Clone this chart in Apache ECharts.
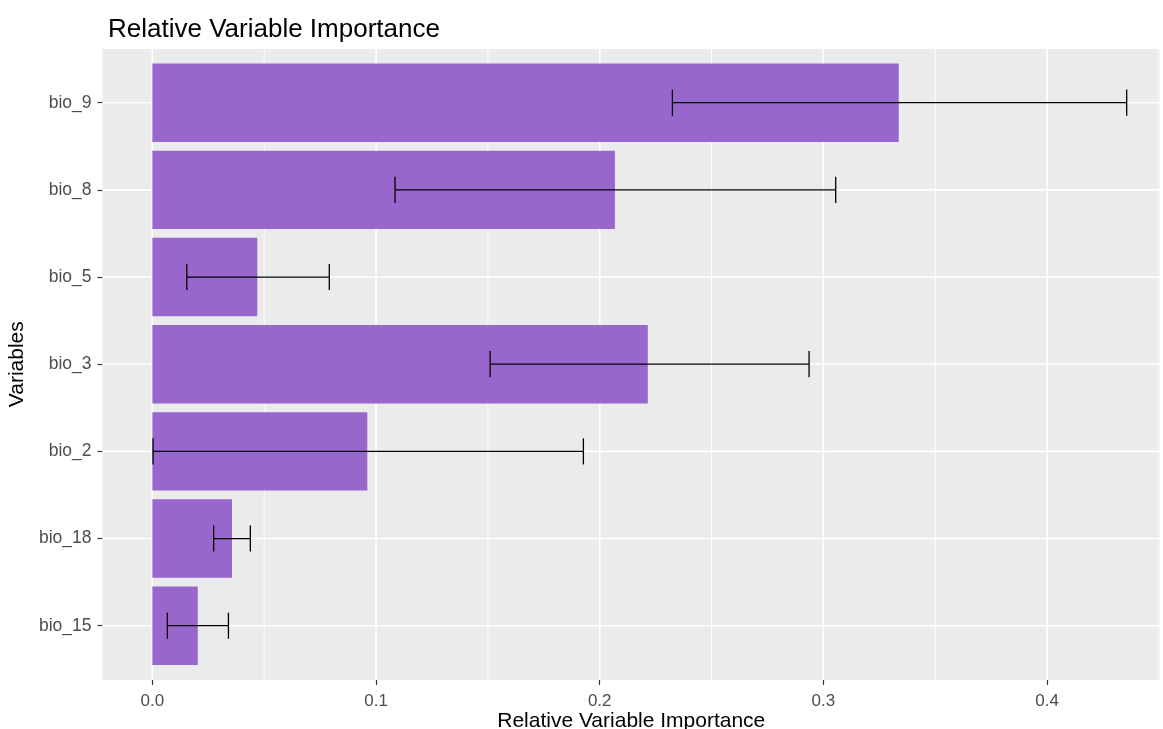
<!DOCTYPE html>
<html>
<head>
<meta charset="utf-8">
<script src="https://cdn.jsdelivr.net/npm/echarts@6/dist/echarts.min.js"></script>
<style>
html,body{margin:0;padding:0;background:#fff;}
#chart{width:1163px;height:729px;}
</style>
</head>
<body>
<div id="chart"></div>
<script>
// ---- data (bottom to top order of the y axis) ----
const categories = ['bio_15', 'bio_18', 'bio_2', 'bio_3', 'bio_5', 'bio_8', 'bio_9'];
const importance = [0.0203, 0.0356, 0.0961, 0.2215, 0.0469, 0.2068, 0.3337];
const errLow     = [0.0067, 0.0274, 0.0003, 0.1510, 0.0154, 0.1085, 0.2325];
const errHigh    = [0.0340, 0.0438, 0.1927, 0.2936, 0.0791, 0.3055, 0.4356];
const xTicks = [0, 0.1, 0.2, 0.3, 0.4];
const xMinorTicks = [0.05, 0.15, 0.25, 0.35, 0.45];
const titleText = 'Relative Variable Importance';
const xTitle = 'Relative Variable Importance';
const yTitle = 'Variables';

const X_MIN = -0.0223, X_MAX = 0.4505;
const FONT = '"Liberation Sans", Arial, sans-serif';

const chart = echarts.init(document.getElementById('chart'), null, {renderer: 'canvas'});

const errData = categories.map((c, i) => [errLow[i], errHigh[i], i]);
const majorGrid = xTicks.map(v => [v, 1.6]);
const minorGrid = xMinorTicks.map(v => [v, 0.9]);

const option = {
  animation: false,
  backgroundColor: '#ffffff',
  title: {
    text: titleText,
    left: 103,
    top: 12,
    textStyle: {fontFamily: FONT, fontSize: 26, fontWeight: 'normal', color: '#000'}
  },
  grid: [
    // inner grid: categories (bars & error bars)
    {left: 102.5, right: 3, top: 59.1, bottom: 59.7, containLabel: false, outerBoundsMode: 'none', show: false},
    // full panel: background and x axis
    {left: 102.5, right: 3, top: 49, bottom: 49, containLabel: false, outerBoundsMode: 'none', show: true,
     backgroundColor: '#EBEBEB', borderWidth: 0}
  ],
  xAxis: [
    {gridIndex: 0, type: 'value', min: X_MIN, max: X_MAX, show: false},
    {
      gridIndex: 1, type: 'value', min: X_MIN, max: X_MAX,
      name: xTitle, nameLocation: 'middle', nameGap: 31, nameMoveOverlap: false,
      nameTextStyle: {fontFamily: FONT, fontSize: 21, color: '#000'},
      axisLine: {show: false, onZero: false},
      axisTick: {show: true, customValues: xTicks, length: 5, lineStyle: {color: '#333', width: 1.2}},
      axisLabel: {show: true, customValues: xTicks, margin: 13, fontFamily: FONT, fontSize: 17, color: '#4D4D4D',
                  formatter: v => Number(v).toFixed(1)},
      splitLine: {show: false}
    }
  ],
  yAxis: [
    {
      gridIndex: 0, type: 'category', data: categories,
      name: yTitle, nameLocation: 'middle', nameGap: 70, nameRotate: 90,
      nameTextStyle: {fontFamily: FONT, fontSize: 21, color: '#000'},
      axisLine: {show: false, onZero: false},
      axisTick: {show: true, alignWithLabel: true, length: 5, lineStyle: {color: '#333', width: 1.2}},
      axisLabel: {margin: 11, fontFamily: FONT, fontSize: 17.5, color: '#4D4D4D'},
      splitLine: {show: false}
    },
    {gridIndex: 1, type: 'value', min: 0, max: 1, show: false}
  ],
  series: [
    // vertical gridlines on the full panel
    {
      type: 'custom', xAxisIndex: 1, yAxisIndex: 1, silent: true, z: 1, clip: false,
      data: majorGrid.concat(minorGrid),
      renderItem: function (params, api) {
        const x = api.coord([api.value(0), 0])[0];
        const cs = params.coordSys;
        return {type: 'line', shape: {x1: x, y1: cs.y, x2: x, y2: cs.y + cs.height},
                style: {stroke: '#FFFFFF', lineWidth: api.value(1)}};
      }
    },
    // horizontal gridlines at categories
    {
      type: 'custom', xAxisIndex: 0, yAxisIndex: 0, silent: true, z: 1, clip: false,
      data: categories.map((c, i) => [0, i]),
      renderItem: function (params, api) {
        const y = api.coord([0, api.value(1)])[1];
        const cs = params.coordSys;
        return {type: 'line', shape: {x1: cs.x, y1: y, x2: cs.x + cs.width, y2: y},
                style: {stroke: '#FFFFFF', lineWidth: 1.6}};
      }
    },
    {
      type: 'bar', xAxisIndex: 0, yAxisIndex: 0, z: 2,
      data: importance, barWidth: '90%',
      itemStyle: {color: '#9966CC'}
    },
    {
      type: 'custom', xAxisIndex: 0, yAxisIndex: 0, z: 3, clip: false,
      data: errData,
      encode: {x: [0, 1], y: 2},
      renderItem: function (params, api) {
        const cat = api.value(2);
        const p1 = api.coord([api.value(0), cat]);
        const p2 = api.coord([api.value(1), cat]);
        const h = api.size([0, 1])[1] * 0.15;
        const st = {stroke: '#000', lineWidth: 1.3, fill: null};
        return {type: 'group', children: [
          {type: 'line', shape: {x1: p1[0], y1: p1[1], x2: p2[0], y2: p2[1]}, style: st},
          {type: 'line', shape: {x1: p1[0], y1: p1[1] - h, x2: p1[0], y2: p1[1] + h}, style: st},
          {type: 'line', shape: {x1: p2[0], y1: p2[1] - h, x2: p2[0], y2: p2[1] + h}, style: st}
        ]};
      }
    }
  ]
};
chart.setOption(option);
</script>
</body>
</html>
